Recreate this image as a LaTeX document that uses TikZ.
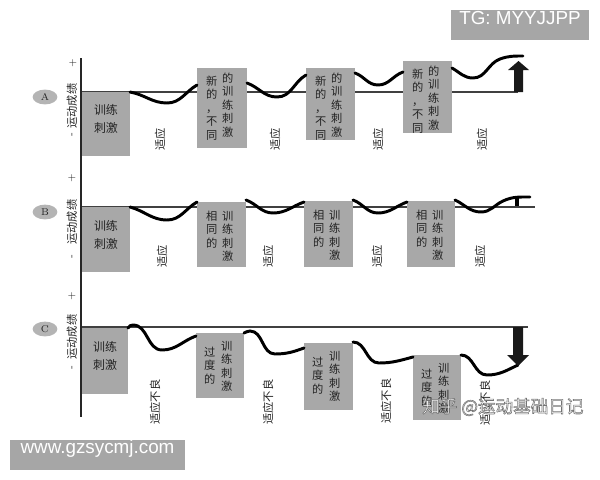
\documentclass[tikz,border=0pt]{standalone}
\usepackage{fontspec}
\usepackage{xcolor}
\usepackage{tikz}
\usetikzlibrary{shapes.geometric,positioning,fit,calc}
\newfontfamily\cjk{Noto Sans CJK SC}
\newfontfamily\wmfont{Liberation Sans}
\definecolor{boxgray}{RGB}{168,168,168}
\definecolor{inkdark}{RGB}{35,35,35}
\definecolor{tagcircle}{RGB}{180,180,180}
\definecolor{markgray}{RGB}{166,166,166}

\begin{document}
\begin{tikzpicture}[
    x=0.025cm, y=-0.025cm,
    stimbox/.style={rectangle, fill=boxgray, inner sep=0pt},
    stimtext/.style={font=\cjk\fontsize{8.5}{12.8}\selectfont, text=inkdark, align=center},
    coltext/.style={anchor=north, inner sep=0pt, font=\cjk\fontsize{8}{9.6}\selectfont, text=inkdark, align=center},
    adapt/.style={rotate=90, inner sep=0pt, font=\cjk\fontsize{8}{9.6}\selectfont, text=inkdark},
    axislabel/.style={rotate=90, inner sep=0pt, font=\cjk\fontsize{8}{9.6}\selectfont, text=inkdark},
    sign/.style={rotate=90, inner sep=0pt, font=\fontsize{7}{8}\selectfont, text=inkdark},
    tag/.style={ellipse, fill=tagcircle, minimum width=0.62cm, minimum height=0.37cm, inner sep=0pt, font=\fontsize{7}{7}\selectfont, text=inkdark},
    levelline/.style={line width=1pt, draw=black!75},
    axisline/.style={line width=1.3pt, draw=black!85},
    perf/.style={line width=2.1pt, line cap=round},
    bigarrow/.style={fill=black!90},
    wmbox/.style={fill=markgray, inner sep=0pt, align=left, font=\wmfont\fontsize{13.4}{15}\selectfont, text=white},
    wmtext/.style={anchor=west, inner sep=0pt, font=\cjk\fontsize{12.5}{14}\selectfont}
]
\useasboundingbox (0,0) rectangle (600,480);

% Level lines
\draw[levelline] (81,92) -- (518,92);
\draw[levelline] (81,207) -- (535,207);
\draw[levelline] (81,327) -- (528,327);

% Stimulus boxes
\node[stimbox, stimtext, fit={(82,92) (130,156)}] (A1) {训练\\刺激};
\node[stimbox, fit={(197,68) (247,148)}] (A2) {};
\node[stimbox, fit={(306,68) (355,140)}] (A3) {};
\node[stimbox, fit={(403,61) (452,133)}] (A4) {};
\node[stimbox, stimtext, fit={(82,207) (130,272)}] (B1) {训练\\刺激};
\node[stimbox, fit={(197,202) (246,267)}] (B2) {};
\node[stimbox, fit={(304,201) (353,267)}] (B3) {};
\node[stimbox, fit={(407,201) (455,267)}] (B4) {};
\node[stimbox, stimtext, fit={(82,328) (128,394)}] (C1) {训练\\刺激};
\node[stimbox, fit={(196,333) (244,398)}] (C2) {};
\node[stimbox, fit={(304,343) (353,410)}] (C3) {};
\node[stimbox, fit={(413,355) (461,420)}] (C4) {};

% Vertical texts
\foreach \b in {A2,A3,A4} {
  \node[coltext] (\b-l) at ($(\b.north west)+(15,8)$) {新\\的\\，\\不\\同};
  \node[coltext] (\b-r) at ($(\b.north west)+(31,5)$) {的\\训\\练\\刺\\激};
}
\foreach \b in {B2,B3,B4} {
  \node[coltext] (\b-l) at ($(\b.north west)+(15,9)$) {相\\同\\的};
  \node[coltext] (\b-r) at ($(\b.north west)+(31,9)$) {训\\练\\刺\\激};
}
\foreach \b in {C2,C3,C4} {
  \node[coltext] (\b-l) at ($(\b.north west)+(14,14)$) {过\\度\\的};
  \node[coltext] (\b-r) at ($(\b.north west)+(31,8)$) {训\\练\\刺\\激};
}

% Axis
\draw[axisline] (81,58) -- (81,417);

% Performance curves
\draw[perf] (130,92) to[out=-10,in=180] (167,103) to[out=0,in=210] (197,85);
\draw[perf] (247,83) to[out=-20,in=180] (277,97) to[out=0,in=210] (306,75);
\draw[perf] (355,73) to[out=-20,in=180] (378,85) to[out=0,in=200] (403,72);
\draw[perf] (452,68) to[out=-30,in=180] (473,78) to[out=0,in=200] (500,59) to[out=20,in=180] (523,56);

\draw[perf] (130,207) to[out=-15,in=180] (167,220) to[out=0,in=210] (197,202);
\draw[perf] (246,200) to[out=-20,in=180] (273,213) to[out=0,in=200] (304,202);
\draw[perf] (353,200) to[out=-20,in=180] (378,213) to[out=0,in=200] (407,202);
\draw[perf] (455,200) to[out=-25,in=180] (481,212) to[out=0,in=205] (503,201) to[out=25,in=180] (530,197);
\draw[line width=3pt] (517,198) -- (517,206);

\draw[perf] (128,328) to[out=60,in=180] (133,325) to[out=0,in=180] (162,350) to[out=0,in=200] (196,336);
\draw[perf] (244,333) to[out=20,in=180] (250,331) to[out=0,in=180] (275,354) to[out=0,in=200] (304,348);
\draw[perf] (353,342) to[out=0,in=180] (379,363) to[out=0,in=195] (413,357);
\draw[perf] (461,355) to[out=0,in=180] (487,375) to[out=0,in=205] (518,365);

% Arrows
\fill[bigarrow] (514,92) -- (514,70) -- (508,70) -- (518.5,61) -- (529,70) -- (523,70) -- (523,92) -- cycle;
\fill[bigarrow] (513,327) -- (513,355) -- (507,355) -- (518,366) -- (529,355) -- (523,355) -- (523,327) -- cycle;

% Phase labels
\foreach \x/\n in {160/1,275/2,378/3,482/4}
  \node[adapt] (adaptA\n) at (\x,139) {适应};
\foreach \x/\n in {162/1,268/2,377/3,480/4}
  \node[adapt] (adaptB\n) at (\x,256) {适应};
\foreach \x/\y/\n in {155/402/1,268/402/2,386/401/3,485/403/4}
  \node[adapt] (maladC\n) at (\x,\y) {适应不良};

% Axis labels
\node[sign] (plusA) at (73,63) {+};
\node[axislabel] (perfA) at (72,106) {运动成绩};
\node[sign] (minusA) at (73,135) {-};
\node[sign] (plusB) at (72,178) {+};
\node[axislabel] (perfB) at (72,222) {运动成绩};
\node[sign] (minusB) at (73,257) {-};
\node[sign] (plusC) at (72,296) {+};
\node[axislabel] (perfC) at (72,337) {运动成绩};
\node[sign] (minusC) at (73,368) {-};

\node[tag] (tagA) at (45,97) {A};
\node[tag] (tagB) at (45,212) {B};
\node[tag] (tagC) at (45,329) {C};

% Marks
\node[wmbox, text width=3.2cm, fit={(451,10) (589,40)}] (tgmark) {TG: MYYJJPP};
\node[wmbox, text width=4.125cm, fit={(10,440) (185,470)}] (webmark) {www.gzsycmj.com};
\node[wmtext, text=white] (zhmark) at (422,407) {\special{pdf:literal direct 2 Tr 0.4 w 0.45 0.45 0.45 RG}知乎 @运动基础日记\special{pdf:literal direct 0 Tr}};
\end{tikzpicture}
\end{document}
